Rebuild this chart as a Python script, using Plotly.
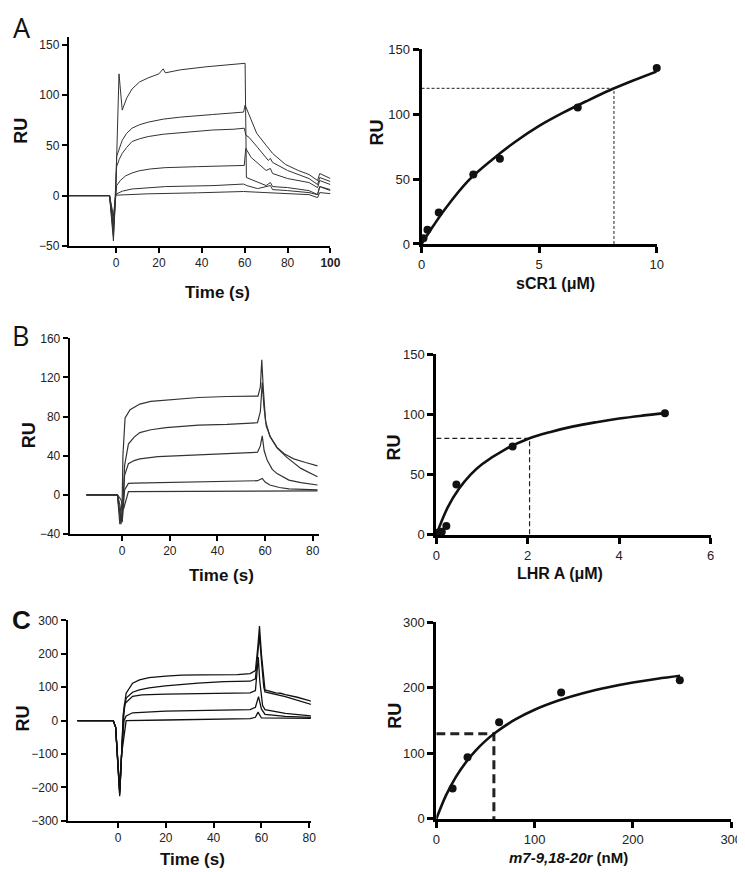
import plotly.graph_objects as go

W, H = 745, 872

# ---------------- Panel A (left): sensorgrams ----------------
A_t = [
    [-22, -3, -1.2, -0.2, 1.4, 2.9, 5, 7.5, 11, 15, 20, 22, 23, 30, 42, 53, 59.5, 60.2, 60.8, 65, 70, 72, 73, 80, 90, 94, 95, 100],
    [-22, -3, -1.2, -0.2, 0.3, 1.5, 2.9, 5, 7.5, 11, 15, 22, 30, 45, 55, 59.5, 60.2, 62, 65.6, 70, 72, 73, 79, 85, 90, 94, 95, 100],
    [-22, -3, -1.2, -0.2, 0.3, 1.5, 2.9, 5, 7.5, 11, 15, 22, 30, 45, 55, 59.8, 60.6, 62, 66, 71, 72, 73, 80, 90, 94, 95, 100],
    [-22, -3, -1.2, -0.2, 0.3, 2, 4.5, 7.5, 10.6, 16, 22.9, 38, 50, 59.8, 60.5, 63, 70, 72, 73, 80, 90, 94, 95, 100],
    [-22, -3, -1.2, -0.2, 0.3, 3, 7.5, 15, 23, 45.7, 59.5, 61, 66, 72, 73, 80, 90, 94, 95, 100],
    [-22, -3, -1.2, -0.2, 0.3, 15, 38, 59.5, 70, 80, 90, 94, 95, 100],
]
A_v = [
    [0, 0, -45, 0, 121, 85, 97, 106, 113, 117, 121, 126, 122, 125, 128, 130, 131, 131.5, 18, 14, 10, 13, 9, 8, 5, 1, 9, 5],
    [0, 0, -40, 0, 39, 47, 55, 62, 67, 70.5, 73, 76, 78, 80.6, 82, 83, 90, 81, 62, 50, 45, 42, 31, 25, 21, 15, 22, 17],
    [0, 0, -35, 0, 29, 36, 42, 48, 53.8, 56.5, 58.7, 61, 62.6, 65.2, 66, 67, 60, 58, 48, 35, 37, 33, 25, 17, 11, 18, 14],
    [0, 0, -30, 0, 10, 15, 19.7, 22.5, 24.6, 26.5, 27.8, 28.8, 29.3, 30, 47, 38, 25, 27, 22, 17, 13, 8, 15, 11],
    [0, 0, -25, 0, 1.8, 4.5, 6.6, 8, 9, 10, 11.5, 10, 7, 10, 6, 5, 3, 1, 9, 6],
    [0, 0, -20, 0, 0.5, 1.8, 2.8, 4.1, 3, 2, 1, -2, 3, 2],
]

# ---------------- Panel A (right): binding ----------------
A_conc = [0.08, 0.25, 0.73, 2.2, 3.33, 6.64, 10]
A_ru = [4.5, 10.9, 24.3, 53.6, 65.8, 105.2, 135.6]
A_fit_x = [0, 0.5, 1, 2, 3, 4, 5, 6, 7, 8, 9, 10]
A_fit_y = [0, 14, 27, 49, 65, 79, 91, 101, 110, 118.5, 126, 133]
A_ref_x, A_ref_y = 8.18, 120

# ---------------- Panel B (left): sensorgrams ----------------
B_t = [
    [-15, -2, -1, 0, 0.3, 1.2, 3.3, 7.4, 12, 18.4, 32, 44, 57, 58, 58.6, 59.2, 60.2, 62, 65, 68, 72, 77, 82],
    [-15, -2, -0.5, 0.3, 1, 2.6, 5, 7.4, 12, 18.4, 32, 44, 56.8, 58, 58.8, 59.5, 60.5, 62.3, 65, 69, 75, 82],
    [-15, -2, -1, 0, 1, 2.6, 5, 7.4, 15, 25, 44, 56.8, 58, 58.8, 59.6, 60.9, 63, 65, 70, 75, 82],
    [-15, -2, -1, 0, 1, 2.6, 5, 18, 44, 56.8, 58.8, 60, 62, 66, 70, 82],
    [-15, -2, -0.5, 0.5, 2.6, 20, 40, 60, 82],
]
B_v = [
    [0, 0, -30, -5, 40, 78.7, 87, 92.8, 95.5, 97, 99.5, 100.5, 101, 110, 138, 110, 75, 60, 48.5, 42, 36.8, 33, 29.5],
    [0, 0, -30, -10, 30, 51.9, 59, 63.6, 66.5, 68.6, 71.3, 72, 73.7, 85, 115, 90, 70, 58.6, 48, 38.5, 27, 18.5],
    [0, 0, -20, -25, 20, 31.8, 35, 36.8, 39, 40.2, 41.8, 43.5, 50, 60.3, 45, 35.2, 26, 21.7, 15, 12.5, 10],
    [0, 0, -10, -28, 5, 11.7, 12, 12.7, 13.4, 14.4, 16.7, 13, 10, 7.5, 6, 5],
    [0, 0, -5, -15, 3.3, 3.5, 3.8, 4, 4],
]

# ---------------- Panel B (right): binding ----------------
B_conc = [0.05, 0.12, 0.22, 0.44, 1.67, 5.0]
B_ru = [1.9, 2.7, 7.3, 41.8, 73.4, 101]
B_fit_x = [0, 0.25, 0.5, 0.75, 1, 1.5, 2, 2.5, 3, 3.5, 4, 4.5, 5]
B_fit_y = [0, 22.8, 38.4, 50, 58.6, 70.8, 79.6, 85.4, 90, 93.5, 96.5, 98.9, 101]
B_ref_x, B_ref_y = 2.04, 80

# ---------------- Panel C (left): sensorgrams ----------------
C_t = [
    [-17, -2, -1, 0, 0.7, 1.5, 2.2, 3.4, 6.1, 9, 13, 20, 26.6, 35, 44.4, 50, 55.3, 57.5, 58.5, 59.2, 60, 61, 61.5, 66, 68, 70, 75, 81],
    [-17, -2, -1, 0, 0.7, 1.5, 2.2, 3.4, 6.1, 8.9, 13, 19.8, 26, 33.5, 44.4, 55.3, 57.5, 58.5, 59.2, 60, 61, 61.5, 70, 81],
    [-17, -2, -1, 0, 0.7, 1.5, 2.2, 2.7, 6.1, 10, 19.8, 44.4, 55.3, 57.5, 58.7, 59.3, 60.5, 61.5, 70, 81],
    [-17, -2, -1, 0, 0.7, 1.5, 2.5, 3.4, 6.1, 19.8, 44.4, 55.3, 57.5, 58.8, 60, 61.5, 70, 81],
    [-17, -2, -1, 0, 0.7, 1.5, 3.4, 20, 44.4, 55.3, 57.5, 58.6, 60, 70, 81],
]
C_v = [
    [0, 0, -20, -150, -226, -100, 20, 82, 112, 122, 129, 133, 136, 137, 138, 138, 141, 150, 220, 283, 200, 110, 92, 83, 82, 78, 70, 58],
    [0, 0, -20, -150, -220, -100, 15, 67.6, 85, 92, 98, 104, 108, 112, 117, 118, 125, 190, 255, 180, 100, 86, 72, 48],
    [0, 0, -20, -150, -215, -100, 10, 50, 72.6, 77, 79.4, 82.4, 83, 90, 190, 120, 45, 33, 22, 14],
    [0, 0, -20, -150, -210, -100, 0, 13.8, 23.5, 28.4, 33, 33, 40, 72, 35, 18.6, 13, 10],
    [0, 0, -20, -150, -205, -100, 0, 2, 5, 6, 10, 25.5, 8, 7, 7],
]

# ---------------- Panel C (right): binding ----------------
C_conc = [16.6, 31.8, 63.9, 127, 247.7]
C_ru = [46.5, 94, 147.5, 193, 211.5]
C_fit_x = [0, 10, 20, 30, 40, 50, 60, 80, 100, 125, 150, 175, 200, 225, 248]
C_fit_y = [0, 36.3, 64.2, 86.2, 104.2, 119.1, 131.5, 151.5, 166.6, 181.0, 192.2, 200.9, 208.1, 214.0, 218.5]
C_ref_x, C_ref_y = 58.6, 130

FONT = "Liberation Sans, Arial, sans-serif"

def px_x(p):
    return p / W

def px_y(p):
    return 1 - p / H

fig = go.Figure()

def add_sensor(ts, vs, xa, ya, width=1.1, color="#333"):
    for t, v in zip(ts, vs):
        fig.add_trace(go.Scatter(x=t, y=v, mode="lines", xaxis=xa, yaxis=ya,
                                 line=dict(color=color, width=width), showlegend=False,
                                 hoverinfo="skip"))

def add_binding(cx, cy, fx, fy, rx, ry, xa, ya, dash_w, dash_style):
    fig.add_trace(go.Scatter(x=[0, rx, rx], y=[ry, ry, 0], mode="lines", xaxis=xa, yaxis=ya,
                             line=dict(color="#222", width=dash_w, dash=dash_style),
                             showlegend=False, hoverinfo="skip"))
    fig.add_trace(go.Scatter(x=fx, y=fy, mode="lines", xaxis=xa, yaxis=ya, line_shape="spline",
                             line=dict(color="#111", width=2.6), showlegend=False,
                             hoverinfo="skip"))
    fig.add_trace(go.Scatter(x=cx, y=cy, mode="markers", xaxis=xa, yaxis=ya, cliponaxis=False,
                             marker=dict(color="#111", size=8), showlegend=False,
                             hoverinfo="skip"))

add_sensor(A_t, A_v, "x", "y", width=1.0, color="#333")
add_binding(A_conc, A_ru, A_fit_x, A_fit_y, A_ref_x, A_ref_y, "x2", "y2", 1, "3px,2px")
add_sensor(B_t, B_v, "x3", "y3", width=1.2, color="#333")
add_binding(B_conc, B_ru, B_fit_x, B_fit_y, B_ref_x, B_ref_y, "x4", "y4", 1.2, "5px,3px")
add_sensor(C_t, C_v, "x5", "y5", width=1.3, color="#111")
add_binding(C_conc, C_ru, C_fit_x, C_fit_y, C_ref_x, C_ref_y, "x6", "y6", 3, "9px,5px")

def axis(domain, rng, anchor, tickvals, ticktext=None, lw=2, fs=12, ticklen=5):
    d = dict(domain=domain, range=rng, anchor=anchor, showline=True, linecolor="#000",
             linewidth=lw, ticks="outside", ticklen=ticklen, tickwidth=lw, tickcolor="#000",
             showgrid=False, zeroline=False, tickvals=tickvals,
             tickfont=dict(family=FONT, size=fs, color="#222"), fixedrange=True)
    if ticktext is not None:
        d["ticktext"] = ticktext
    return d

layout = dict(
    width=W, height=H, autosize=False,
    margin=dict(l=0, r=0, t=0, b=0),
    paper_bgcolor="white", plot_bgcolor="white",
    showlegend=False,
    # A left
    xaxis=axis([px_x(58), px_x(325)], [-22, 100], "y", [0, 20, 40, 60, 80, 100],
               ["0", "20", "40", "60", "80", "<b>100</b>"], lw=2.2, fs=12),
    yaxis=axis([px_y(235), px_y(22)], [-50, 158], "x", [-50, 0, 50, 100, 150], lw=2.2, fs=12),
    # A right
    xaxis2=axis([px_x(418), px_x(658)], [0, 10], "y2", [0, 5, 10], lw=3, fs=13, ticklen=6),
    yaxis2=axis([px_y(233), px_y(35)], [0, 150], "x2", [0, 50, 100, 150], lw=3, fs=13, ticklen=6),
    # B left
    xaxis3=axis([px_x(59), px_x(313)], [-22, 82.5], "y3", [0, 20, 40, 60, 80], lw=2.2, fs=12),
    yaxis3=axis([px_y(528), px_y(329)], [-40, 160], "x3", [-40, 0, 40, 80, 120, 160], lw=2.2, fs=12),
    # B right
    xaxis4=axis([px_x(433), px_x(713)], [0, 6], "y4", [0, 2, 4, 6], lw=3, fs=13, ticklen=6),
    yaxis4=axis([px_y(529), px_y(345)], [0, 150], "x4", [0, 50, 100, 150], lw=3, fs=13, ticklen=6),
    # C left
    xaxis5=axis([px_x(57), px_x(305)], [-21, 80.7], "y5", [0, 20, 40, 60, 80], lw=2.4, fs=12),
    yaxis5=axis([px_y(820), px_y(616)], [-300, 300], "x5", [-300, -200, -100, 0, 100, 200, 300], lw=2.4, fs=12),
    # C right
    xaxis6=axis([px_x(433), px_x(734)], [0, 300], "y6", [0, 100, 200, 300], lw=3, fs=13, ticklen=6),
    yaxis6=axis([px_y(818), px_y(618)], [0, 300], "x6", [0, 100, 200, 300], lw=3, fs=13, ticklen=6),
)
fig.update_layout(**layout)

def ann(text, x, y, size, angle=0, family=FONT, color="#111"):
    fig.add_annotation(text=text, x=px_x(x), y=px_y(y), xref="paper", yref="paper",
                       showarrow=False, textangle=angle, xanchor="center", yanchor="middle",
                       font=dict(family=family, size=size, color=color))

# panel letters
ann("A", 10, 13, 27, family="Open Sans, sans-serif")
ann("B", 9, 326, 27, family="Open Sans, sans-serif")
ann("<b>C</b>", 10, 616, 26)

# axis titles (left column)
ann("<b>Time (s)</b>", 210, 282, 17)
ann("<b>RU</b>", 9, 118, 18, angle=-90)
ann("<b>Time (s)</b>", 214, 570, 17)
ann("<b>RU</b>", 17, 428, 18, angle=-90)
ann("<b>Time (s)</b>", 184, 859, 17)
ann("<b>RU</b>", 11, 716, 18, angle=-90)

# axis titles (right column)
ann("<b>sCR1 (μM)</b>", 555, 273, 16)
ann("<b>RU</b>", 372, 120, 18, angle=-90)
ann("<b>LHR A (μM)</b>", 559, 568, 16)
ann("<b>RU</b>", 390, 440, 18, angle=-90)
ann("<b><i>m7-9,18-20r</i> (nM)</b>", 568, 857, 15)
ann("<b>RU</b>", 391, 713, 18, angle=-90)

fig.write_html("out.html")
